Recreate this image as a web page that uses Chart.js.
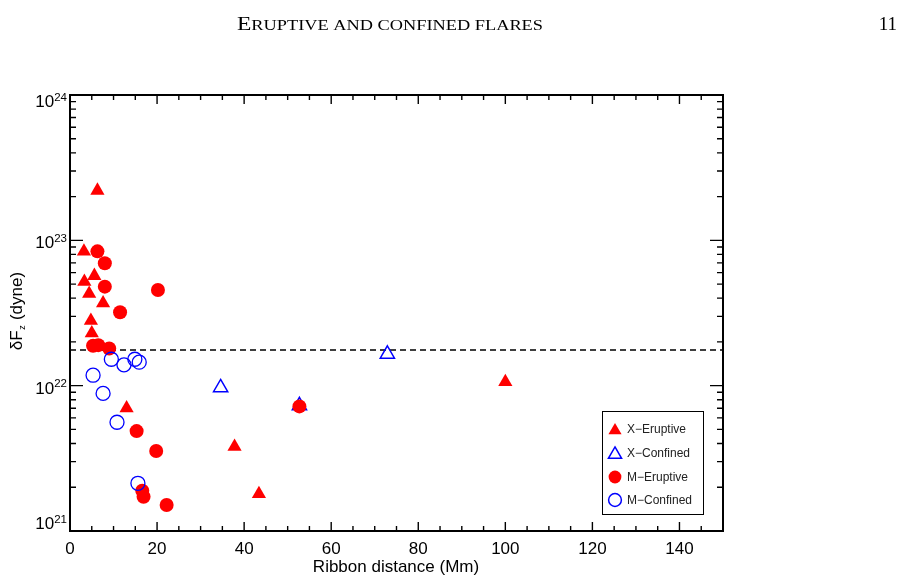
<!DOCTYPE html>
<html lang="en">
<head>
<meta charset="UTF-8">
<title>Eruptive and confined flares</title>
<script src="https://cdn.jsdelivr.net/npm/chart.js"></script>
<style>
  body { margin: 0; background: #ffffff; }
  #wrap { width: 913px; height: 582px; position: relative; }
</style>
</head>
<body>
<div id="wrap"><canvas id="flareChart" width="913" height="582"></canvas></div>
<script>
// ribbon distance (Mm) and delta Fz (dyne) for each flare class
const xEruptiveDist  = [6.3, 3.2, 5.6, 3.3, 4.4, 7.6, 4.8, 5.0, 13.0, 37.8, 43.4, 100.0];
const xEruptiveForce = [2.2e23, 8.4e22, 5.7e22, 5.2e22, 4.3e22, 3.7e22, 2.8e22, 2.3e22, 7.0e21, 3.8e21, 1.8e21, 1.06e22];

const xConfinedDist  = [34.6, 52.7, 72.9];
const xConfinedForce = [9.7e21, 7.3e21, 1.65e22];

const mEruptiveDist  = [6.3, 8.0, 8.0, 20.2, 11.5, 5.3, 6.5, 9.0, 15.3, 19.8, 16.6, 16.9, 22.2, 52.7];
const mEruptiveForce = [8.4e22, 6.95e22, 4.8e22, 4.55e22, 3.2e22, 1.88e22, 1.9e22, 1.8e22, 4.87e21, 3.55e21, 1.89e21, 1.72e21, 1.51e21, 7.2e21];

const mConfinedDist  = [9.5, 12.4, 14.9, 15.9, 5.3, 7.6, 10.8, 15.6];
const mConfinedForce = [1.52e22, 1.39e22, 1.52e22, 1.45e22, 1.18e22, 8.85e21, 5.6e21, 2.13e21];

const thresholdForce = 1.76e22;

const xTickLabels = [0, 20, 40, 60, 80, 100, 120, 140];
const xMinorStep = 5;
const yDecades = [21, 22, 23, 24];

const legendLabels = ['X\u2212Eruptive', 'X\u2212Confined', 'M\u2212Eruptive', 'M\u2212Confined'];

const RED = '#ff0000';
const BLUE = '#0000ff';
const SANS = '"Liberation Sans", Arial, Helvetica, sans-serif';
const SERIF = '"Liberation Serif", "DejaVu Serif", serif';
const TRI_R = 8.2;
const DOT_R = 7;

function pts(xs, ys) {
    return xs.map((x, i) => ({ x: x, y: ys[i] }));
}

function drawMarker(ctx, style, x, y, r, fill, stroke, lw) {
    ctx.beginPath();
    if (style === 'triangle') {
        ctx.moveTo(x, y - r);
        ctx.lineTo(x + Math.sin(2 * Math.PI / 3) * r, y + r / 2);
        ctx.lineTo(x + Math.sin(4 * Math.PI / 3) * r, y + r / 2);
        ctx.closePath();
    } else {
        ctx.arc(x, y, r, 0, Math.PI * 2);
    }
    if (fill) { ctx.fillStyle = fill; ctx.fill(); }
    if (stroke) { ctx.strokeStyle = stroke; ctx.lineWidth = lw; ctx.stroke(); }
}

const framePlugin = {
    id: 'idlFrame',
    afterDraw(chart) {
        const ctx = chart.ctx;
        const a = chart.chartArea;
        const xs = chart.scales.x;
        const ys = chart.scales.y;
        ctx.save();

        // ticks, drawn inward on all four sides
        ctx.strokeStyle = '#000';
        ctx.lineWidth = 1.4;
        ctx.beginPath();
        for (let v = xs.min; v <= xs.max; v += xMinorStep) {
            const px = xs.getPixelForValue(v);
            const len = v % 20 === 0 ? 9 : 5;
            ctx.moveTo(px, a.bottom); ctx.lineTo(px, a.bottom - len);
            ctx.moveTo(px, a.top); ctx.lineTo(px, a.top + len);
        }
        yDecades.forEach(d => {
            for (let m = 1; m <= 9; m++) {
                const v = m * Math.pow(10, d);
                if (v > ys.max * 1.0001) break;
                const py = ys.getPixelForValue(v);
                const len = m === 1 ? 13 : 6;
                ctx.moveTo(a.left, py); ctx.lineTo(a.left + len, py);
                ctx.moveTo(a.right, py); ctx.lineTo(a.right - len, py);
            }
        });
        ctx.stroke();

        // frame
        ctx.lineWidth = 2;
        ctx.strokeRect(a.left, a.top, a.right - a.left, a.bottom - a.top);

        // x tick labels
        ctx.fillStyle = '#000';
        ctx.font = '17px ' + SANS;
        ctx.textAlign = 'center';
        ctx.textBaseline = 'alphabetic';
        xTickLabels.forEach(v => {
            ctx.fillText(String(v), xs.getPixelForValue(v), 554);
        });

        // y tick labels 10^n
        yDecades.forEach(d => {
            const py = ys.getPixelForValue(Math.pow(10, d));
            let shift = 2;
            if (d === 24) shift = 6;
            if (d === 21) shift = -8;
            const base = py + shift + 6;
            ctx.font = '11.5px ' + SANS;
            const sup = String(d);
            const supW = ctx.measureText(sup).width;
            const rightEdge = a.left - 3;
            ctx.textAlign = 'left';
            ctx.fillText(sup, rightEdge - supW, base - 6.5);
            ctx.font = '17px ' + SANS;
            ctx.textAlign = 'right';
            ctx.fillText('10', rightEdge - supW, base);
        });

        // axis titles
        ctx.font = '17px ' + SANS;
        ctx.textAlign = 'center';
        ctx.fillText('Ribbon distance (Mm)', 396, 572);

        ctx.save();
        ctx.translate(22, 311);
        ctx.rotate(-Math.PI / 2);
        ctx.textAlign = 'left';
        ctx.font = '17px ' + SANS;
        const p1 = '\u03b4F', p3 = ' (dyne)';
        const w1 = ctx.measureText(p1).width;
        const w3 = ctx.measureText(p3).width;
        ctx.font = '9px ' + SANS;
        const w2 = ctx.measureText('z').width + 1;
        let sx = -(w1 + w2 + w3) / 2;
        ctx.font = '17px ' + SANS;
        ctx.fillText(p1, sx, 0);
        ctx.font = '9px ' + SANS;
        ctx.fillText('z', sx + w1 + 0.5, 3);
        ctx.font = '17px ' + SANS;
        ctx.fillText(p3, sx + w1 + w2, 0);
        ctx.restore();

        // legend box
        ctx.lineWidth = 1;
        ctx.strokeStyle = '#000';
        ctx.strokeRect(602.5, 411.5, 101, 103);
        const rows = [429, 453, 477, 500];
        const styles = [
            ['triangle', RED, null],
            ['triangle', null, BLUE],
            ['circle', RED, null],
            ['circle', null, BLUE]
        ];
        ctx.font = '12px ' + SANS;
        ctx.textAlign = 'left';
        ctx.textBaseline = 'middle';
        legendLabels.forEach((lab, i) => {
            const s = styles[i];
            const r = s[0] === 'triangle' ? 7.6 : 6.4;
            const yy = s[0] === 'triangle' ? rows[i] + 1.5 : rows[i];
            drawMarker(ctx, s[0], 615, yy, r, s[1], s[2], 1.5);
            ctx.fillStyle = '#222';
            ctx.fillText(lab, 627, rows[i] + 0.5);
        });

        // running header
        ctx.fillStyle = '#000';
        ctx.textBaseline = 'alphabetic';
        ctx.textAlign = 'left';
        const rest = 'RUPTIVE AND CONFINED FLARES';
        const S = 19;
        ctx.font = S + 'px ' + SERIF;
        const wE = ctx.measureText('E').width;
        ctx.font = (S * 0.78) + 'px ' + SERIF;
        const wR = ctx.measureText(rest).width;
        const k = 306 / (wE + wR);
        ctx.save();
        ctx.translate(237, 30);
        ctx.scale(k, 1);
        ctx.font = S + 'px ' + SERIF;
        ctx.fillText('E', 0, 0);
        ctx.font = (S * 0.78) + 'px ' + SERIF;
        ctx.fillText(rest, wE, 0);
        ctx.restore();
        ctx.font = S + 'px ' + SERIF;
        ctx.textAlign = 'right';
        ctx.fillText('11', 897, 30);

        ctx.restore();
    }
};

new Chart(document.getElementById('flareChart'), {
    type: 'scatter',
    data: {
        datasets: [
            {
                label: 'M-Confined',
                data: pts(mConfinedDist, mConfinedForce),
                pointStyle: 'circle',
                pointRadius: DOT_R,
                backgroundColor: 'rgba(0,0,0,0)',
                borderColor: BLUE,
                borderWidth: 1.3,
                order: 1
            },
            {
                label: 'M-Eruptive',
                data: pts(mEruptiveDist, mEruptiveForce),
                pointStyle: 'circle',
                pointRadius: DOT_R,
                backgroundColor: RED,
                borderColor: RED,
                borderWidth: 0,
                order: 2
            },
            {
                label: 'X-Confined',
                data: pts(xConfinedDist, xConfinedForce),
                pointStyle: 'triangle',
                pointRadius: TRI_R,
                backgroundColor: 'rgba(0,0,0,0)',
                borderColor: BLUE,
                borderWidth: 1.5,
                order: 3
            },
            {
                label: 'X-Eruptive',
                data: pts(xEruptiveDist, xEruptiveForce),
                pointStyle: 'triangle',
                pointRadius: TRI_R,
                backgroundColor: RED,
                borderColor: RED,
                borderWidth: 0,
                order: 4
            },
            {
                type: 'line',
                label: 'threshold',
                data: [{ x: 0, y: thresholdForce }, { x: 150, y: thresholdForce }],
                borderColor: '#000',
                borderWidth: 1.3,
                borderDash: [6, 4],
                pointRadius: 0,
                fill: false,
                order: 5
            }
        ]
    },
    options: {
        responsive: false,
        animation: false,
        layout: { padding: { left: 70, top: 95, right: 190, bottom: 51 } },
        plugins: {
            legend: { display: false },
            tooltip: { enabled: false }
        },
        scales: {
            x: { type: 'linear', min: 0, max: 150, display: false },
            y: { type: 'logarithmic', min: 1e21, max: 1e24, display: false }
        }
    },
    plugins: [framePlugin]
});
</script>
</body>
</html>
